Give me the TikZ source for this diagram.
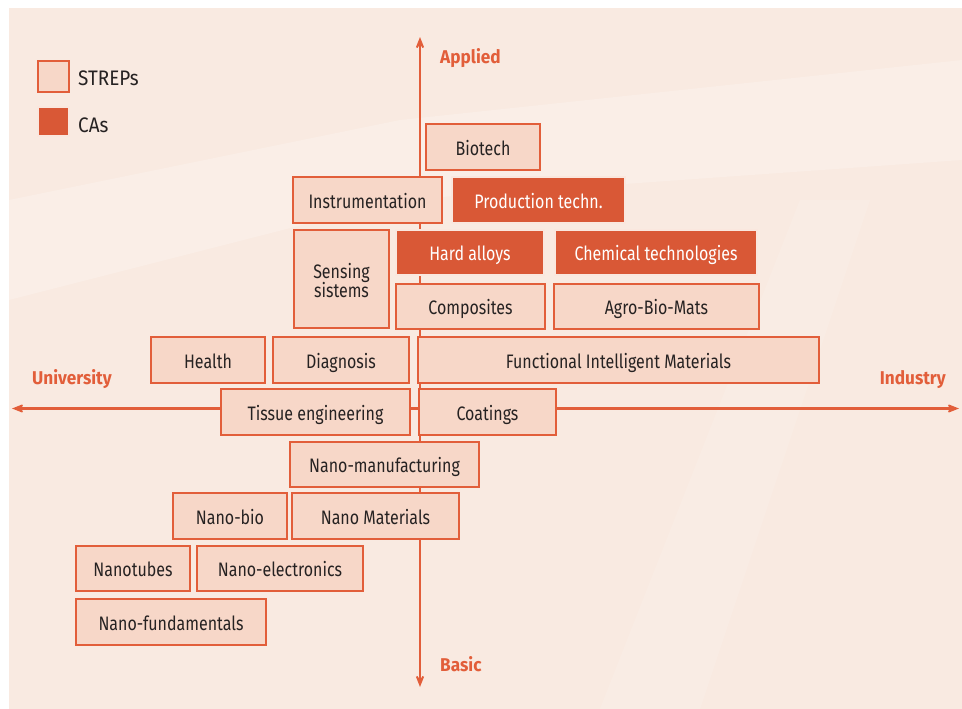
\documentclass[tikz,border=0pt]{standalone}
\usepackage{fontspec}
\setmainfont{Fira Sans}
\newfontfamily\boxfont[FakeStretch=0.82]{Fira Sans}
\newfontfamily\legfont[FakeStretch=0.9]{Fira Sans}
\newfontfamily\labfont[FakeStretch=0.93]{Fira Sans Bold}
\usetikzlibrary{arrows.meta}
\definecolor{bgc}{RGB}{249,234,225}
\definecolor{boxfill}{RGB}{247,215,200}
\definecolor{boxline}{RGB}{226,94,58}
\definecolor{darkfill}{RGB}{217,88,54}
\definecolor{txt}{RGB}{38,34,34}
\tikzset{
  basebox/.style={inner sep=0pt, outer sep=0pt, font=\boxfont\fontsize{19.5}{19}\selectfont,
    align=center, text height=18pt, text depth=2pt},
  strep/.style={basebox, draw=boxline, fill=boxfill, line width=1.4pt, text=txt},
  cabox/.style={basebox, draw=boxfill!60!white, fill=darkfill, line width=1.2pt, text=white},
  axislabel/.style={text=boxline, font=\labfont\fontsize{18.5}{20}\selectfont, inner sep=0pt, anchor=base west},
  axisline/.style={draw=boxline, line width=2.8pt, -{Stealth[length=19pt,width=15pt,inset=12pt]}},
  legtext/.style={text=txt, font=\legfont\fontsize{21}{22}\selectfont, anchor=base west, inner sep=0pt}
}
\begin{document}
\begin{tikzpicture}[x=1pt,y=-1pt]
\useasboundingbox (0,0) rectangle (962,709);
\fill[bgc] (9,8) rectangle (962,709);
% faint background light shapes
\fill[white,opacity=0.2] (9,200) -- (400,120) -- (962,60) -- (962,160) -- (400,200) -- (9,300) -- cycle;
\fill[white,opacity=0.12] (600,709) -- (800,200) -- (870,200) -- (700,709) -- cycle;
% axes
\coordinate (ctr) at (420,408.5);
\coordinate (north) at (420,37);
\coordinate (south) at (420,687);
\coordinate (west) at (12,408.5);
\coordinate (east) at (959,408.5);
\draw[axisline] (ctr) -- (north);
\draw[axisline] (ctr) -- (south);
\draw[axisline] (ctr) -- (west);
\draw[axisline] (ctr) -- (east);
\node[axislabel] (applied) at (440,63.3) {Applied};
\node[axislabel] (basic) at (440,671) {Basic};
\node[axislabel] (univ) at (32,384) {University};
\node[axislabel, anchor=base east] (indus) at (946,384) {Industry};
% legend
\node[strep, minimum width=31pt, minimum height=31pt] (legS) at (53.5,76.5) {};
\node[cabox, minimum width=31pt, minimum height=29pt] (legC) at (53.5,121.5) {};
\node[legtext] (legSt) at (78,85) {STREPs};
\node[legtext] (legCt) at (78,132.7) {CAs};
% boxes
\node[strep, minimum width=114pt, minimum height=46pt] (biotech) at (483,147) {Biotech};
\node[strep, minimum width=149pt, minimum height=46pt] (instr) at (367.5,200) {Instrumentation};
\node[cabox, minimum width=173pt, minimum height=46pt] (prod) at (538.5,200) {Production techn.};
\node[strep, minimum width=95pt, minimum height=98pt, text height=38pt, text depth=2pt] (sens) at (341.5,279) {Sensing\\[-2pt]sistems};
\node[cabox, minimum width=148pt, minimum height=45pt] (hard) at (470,252.5) {Hard alloys};
\node[cabox, minimum width=202pt, minimum height=45pt] (chem) at (656,252.5) {Chemical technologies};
\node[strep, minimum width=149pt, minimum height=45pt] (comp) at (470.5,306.5) {Composites};
\node[strep, minimum width=205pt, minimum height=45pt] (agro) at (656.5,306.5) {Agro-Bio-Mats};
\node[strep, minimum width=114pt, minimum height=46pt] (health) at (208,360) {Health};
\node[strep, minimum width=136pt, minimum height=46pt] (diag) at (341,360) {Diagnosis};
\node[strep, minimum width=401pt, minimum height=46pt] (fim) at (618.5,360) {Functional Intelligent Materials};
\node[strep, minimum width=189pt, minimum height=46pt] (tissue) at (315.5,412) {Tissue engineering};
\node[strep, minimum width=137pt, minimum height=46pt] (coat) at (487.5,412) {Coatings};
\node[strep, minimum width=189pt, minimum height=45pt] (nmanu) at (384.5,464.5) {Nano-manufacturing};
\node[strep, minimum width=114pt, minimum height=46pt] (nbio) at (230,516) {Nano-bio};
\node[strep, minimum width=167pt, minimum height=46pt] (nmat) at (375.5,516) {Nano Materials};
\node[strep, minimum width=114pt, minimum height=45pt] (ntubes) at (133,568.5) {Nanotubes};
\node[strep, minimum width=166pt, minimum height=45pt] (nelec) at (280,568.5) {Nano-electronics};
\node[strep, minimum width=190pt, minimum height=46pt] (nfund) at (171,622) {Nano-fundamentals};
\end{tikzpicture}
\end{document}
